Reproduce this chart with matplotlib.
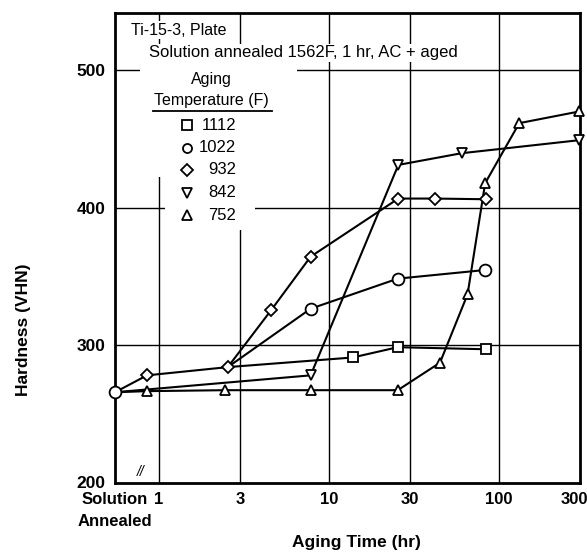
import matplotlib
matplotlib.use("Agg")
import matplotlib.pyplot as plt
from matplotlib.patches import Rectangle
from matplotlib.transforms import ScaledTranslation

plt.rcParams['font.family'] = ['Liberation Sans', 'DejaVu Sans']

SA = 0.551  # plotted position of the "Solution Annealed" state

# Series (aging time in hr, hardness VHN)
t_1112 = [2.54, 13.8, 25.4, 83.5]
h_1112 = [284, 291, 298.5, 297]
t_1022 = [2.54, 7.8, 25.4, 83]
h_1022 = [284, 326.5, 348.4, 354.7]
t_932 = [SA, 0.85, 2.54, 4.56, 7.8, 25.6, 42, 83.9]
h_932 = [265.7, 278, 284, 325.3, 364.4, 406.7, 406.7, 406.2]
t_842 = [SA, 7.8, 25.6, 60.3, 297]
h_842 = [265.7, 278, 431.2, 439.7, 449.2]
t_752 = [SA, 0.85, 2.44, 7.8, 25.4, 45, 65.4, 83, 131.7, 297]
h_752 = [265.7, 266.5, 267.2, 267.2, 267.2, 287.2, 337, 417.9, 461.6, 470.1]

legend_labels = ["1112", "1022", "932", "842", "752"]
legend_markers = ["s", "o", "D", "v", "^"]

xticks = [SA, 1, 3, 10, 30, 100, 300]
xticklabels = ["Solution\nAnnealed", "1", "3", "10", "30", "100", "300"]
yticks = [200, 300, 400, 500]

W, H = 587, 557
fig = plt.figure(figsize=(W / 100, H / 100), dpi=100)
L, R, T, B = 115, 580, 12.7, 482.5
ax = fig.add_axes([L / W, 1 - B / H, (R - L) / W, (B - T) / H])
ax.set_xscale("log")
ax.set_xlim(SA, 300)
ax.set_ylim(200, 542)
ax.set_axisbelow(True)

for v in [1, 3, 10, 30, 100]:
    ax.axvline(v, color="black", lw=1.0, zorder=0.5)
for v in [300, 400, 500]:
    ax.axhline(v, color="black", lw=1.0, zorder=0.5)

def px2ax(x, y):
    return (x - L) / (R - L), (B - y) / (B - T)

# white areas behind the annotation block
for (x0, y0, x1, y1) in [(140, 62, 297, 177), (165, 177, 255, 230)]:
    ax0, ay1 = px2ax(x0, y0)
    ax1_, ay0 = px2ax(x1, y1)
    ax.add_patch(Rectangle((ax0, ay0), ax1_ - ax0, ay1 - ay0, transform=ax.transAxes,
                           facecolor="white", edgecolor="none", zorder=1))

mk = dict(color="black", lw=1.5, markerfacecolor="white", markeredgecolor="black",
          markeredgewidth=1.3, zorder=3, clip_on=False)
ax.plot(t_1112, h_1112, marker="s", ms=7, markevery=[1, 2, 3], **mk)
ax.plot(t_1022, h_1022, marker="o", ms=8.5, markevery=[1, 2, 3], **mk)
ax.plot(t_842, h_842, marker="v", ms=7.5, markevery=[1, 2, 3, 4], **mk)
ax.plot(t_752, h_752, marker="^", ms=7.5, markevery=list(range(1, len(t_752))), **mk)
ax.plot(t_932, h_932, marker="D", ms=6.5, markevery=list(range(1, len(t_932))), **mk)
ax.plot([SA], [265.7], marker="o", ms=8.5, linestyle="none",
        **{k: v for k, v in mk.items() if k != "lw"})

ax.set_xticks(xticks)
ax.set_xticklabels(xticklabels)
ax.minorticks_off()
ax.set_yticks(yticks)
ax.tick_params(axis="x", length=0, labelsize=12, pad=7)
ax.tick_params(axis="y", length=0, labelsize=12.5, pad=7)
for lab in ax.get_xticklabels() + ax.get_yticklabels():
    lab.set_fontweight("bold")
xl = ax.get_xticklabels()
xl[-1].set_transform(xl[-1].get_transform() + ScaledTranslation(-6 / 100, 0, fig.dpi_scale_trans))
xl[0].set_linespacing(1.6)
for s in ax.spines.values():
    s.set_linewidth(2)

ax.set_xlabel("Aging Time (hr)", fontsize=12.5, fontweight="bold")
ax.xaxis.set_label_coords(px2ax(356, 0)[0], px2ax(0, 535)[1])
ax.set_ylabel("Hardness (VHN)", fontsize=12.5, fontweight="bold")
ax.yaxis.set_label_coords(px2ax(31, 0)[0], px2ax(0, 330)[1])

def txt(x, y, s, ha="left", size=11.5, **kw):
    ax.text(*px2ax(x, y), s, transform=ax.transAxes, ha=ha, va="center",
            fontsize=size, **kw)

bb = dict(facecolor="white", edgecolor="none", pad=1)
txt(131, 30, "Ti-15-3, Plate", bbox=bb, zorder=4)
txt(149, 53, "Solution annealed 1562F, 1 hr, AC + aged", size=12, bbox=bb, zorder=4)
txt(211, 79, "Aging", ha="center", zorder=4)
txt(211, 100, "Temperature (F)", ha="center", zorder=4)
a0 = px2ax(153, 111)
a1 = px2ax(272, 111)
ax.plot([a0[0], a1[0]], [a0[1], a1[1]], transform=ax.transAxes, color="black", lw=1.3, zorder=4)
for i, (lab, m) in enumerate(zip(legend_labels, legend_markers)):
    y = 125 + i * 22.5
    ax.plot(*px2ax(187, y), transform=ax.transAxes, marker=m, ms=6.5 if m != "D" else 6,
            markerfacecolor="white", markeredgecolor="black", markeredgewidth=1.3,
            linestyle="none", zorder=4)
    txt(236, y, lab, ha="right", size=12, zorder=4)

txt(141, 472, "//", ha="center", style="italic", size=10, zorder=4)

fig.savefig("out.png", dpi=100)
